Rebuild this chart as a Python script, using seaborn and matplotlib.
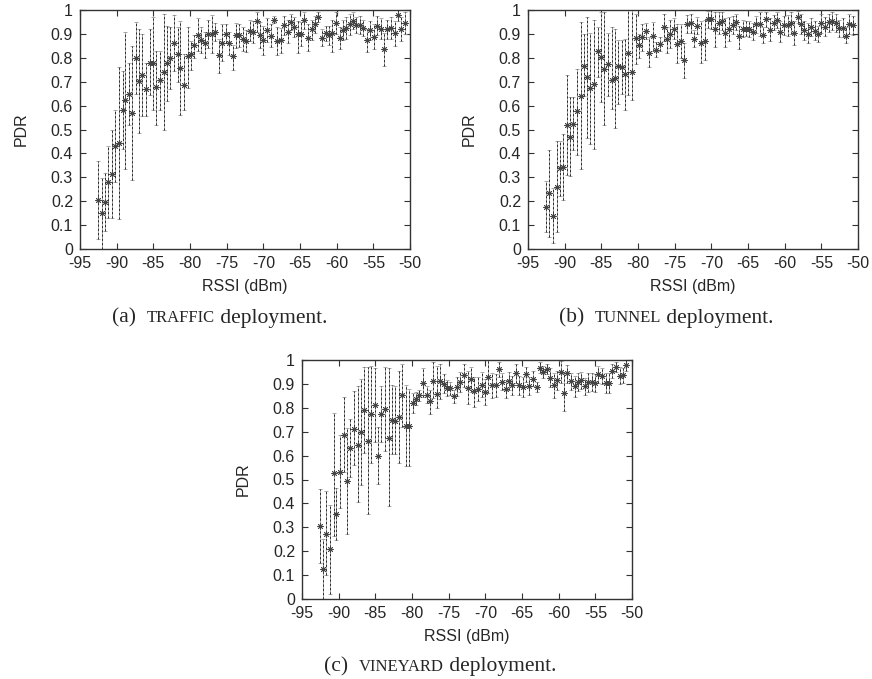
import numpy as np
import pandas as pd
import seaborn as sns
import matplotlib.pyplot as plt

# ---- (a) TRAFFIC ----
traffic_rssi = [-92.6, -92.0, -91.6, -91.2, -90.7, -90.2, -89.7, -89.2, -88.8, -88.3,
                -87.9, -87.4, -86.9, -86.5, -86.0, -85.5, -85.1, -84.6, -84.1, -83.6,
                -83.2, -82.7, -82.2, -81.7, -81.3, -80.8, -80.3, -79.9, -79.4, -78.9,
                -78.5, -78.0, -77.5, -77.0, -76.6, -76.1, -75.6, -75.1, -74.7, -74.2,
                -73.7, -73.3, -72.8, -72.3, -71.8, -71.4, -70.9, -70.5, -70.0, -69.5,
                -69.0, -68.6, -68.1, -67.6, -67.2, -66.7, -66.2, -65.8, -65.3, -64.8,
                -64.4, -63.9, -63.4, -63.0, -62.5, -62.0, -61.5, -61.0, -60.6, -60.1,
                -59.6, -59.2, -58.7, -58.2, -57.8, -57.3, -56.8, -56.4, -55.9, -55.4,
                -54.9, -54.5, -54.0, -53.5, -53.1, -52.6, -52.1, -51.6, -51.2, -50.7]
traffic_pdr = [0.203, 0.15, 0.195, 0.28, 0.315, 0.43, 0.445, 0.58, 0.625, 0.65,
               0.57, 0.80, 0.705, 0.727, 0.67, 0.78, 0.78, 0.677, 0.706, 0.742,
               0.78, 0.80, 0.863, 0.816, 0.758, 0.687, 0.806, 0.816, 0.852, 0.895,
               0.876, 0.86, 0.90, 0.90, 0.907, 0.81, 0.863, 0.90, 0.863, 0.806,
               0.894, 0.894, 0.88, 0.87, 0.914, 0.91, 0.953, 0.894, 0.873, 0.915,
               0.893, 0.96, 0.87, 0.873, 0.936, 0.91, 0.951, 0.928, 0.898, 0.90,
               0.957, 0.884, 0.919, 0.94, 0.972, 0.884, 0.902, 0.895, 0.905, 0.944,
               0.883, 0.918, 0.925, 0.94, 0.955, 0.937, 0.938, 0.925, 0.873, 0.915,
               0.887, 0.935, 0.922, 0.836, 0.92, 0.925, 0.902, 0.98, 0.92, 0.945]
traffic_top = [0.37, 0.295, 0.32, 0.43, 0.50, 0.58, 0.76, 0.745, 0.91, 0.78,
               0.85, 0.95, 0.92, 0.90, 0.78, 0.92, 0.97, 0.83, 0.83, 0.985,
               0.935, 0.93, 0.98, 0.93, 0.955, 0.815, 0.93, 0.87, 0.895, 0.965,
               0.93, 0.91, 0.96, 0.98, 0.945, 0.88, 0.94, 0.94, 0.91, 0.855,
               0.945, 0.94, 0.93, 0.915, 0.96, 0.955, 0.99, 0.95, 0.935, 0.965,
               0.94, 0.975, 0.93, 0.925, 0.975, 0.96, 0.985, 0.97, 0.955, 0.95,
               0.99, 0.94, 0.96, 0.975, 0.99, 0.92, 0.935, 0.935, 0.96, 0.99,
               0.93, 0.96, 0.97, 0.985, 0.99, 0.97, 0.975, 0.96, 0.92, 0.955,
               0.94, 0.975, 0.965, 0.905, 0.96, 0.97, 0.955, 1.0, 0.97, 0.99]
traffic_bot = [0.04, 0.0, 0.075, 0.13, 0.13, 0.28, 0.125, 0.42, 0.335, 0.52,
               0.29, 0.65, 0.485, 0.555, 0.555, 0.645, 0.58, 0.52, 0.58, 0.50,
               0.62, 0.67, 0.745, 0.70, 0.56, 0.58, 0.675, 0.75, 0.80, 0.83,
               0.82, 0.80, 0.84, 0.82, 0.87, 0.735, 0.785, 0.86, 0.81, 0.75,
               0.84, 0.845, 0.83, 0.825, 0.87, 0.86, 0.91, 0.84, 0.81, 0.865,
               0.845, 0.945, 0.81, 0.82, 0.895, 0.86, 0.915, 0.885, 0.82, 0.85,
               0.92, 0.83, 0.875, 0.905, 0.95, 0.85, 0.87, 0.855, 0.825, 0.90,
               0.835, 0.875, 0.88, 0.895, 0.92, 0.905, 0.90, 0.89, 0.825, 0.875,
               0.835, 0.895, 0.88, 0.765, 0.88, 0.88, 0.85, 0.955, 0.87, 0.90]

# ---- (b) TUNNEL ----
tunnel_rssi = [-92.6, -92.1, -91.6, -91.1, -90.6, -90.2, -89.7, -89.3, -88.8, -88.3,
               -87.8, -87.4, -86.9, -86.5, -86.0, -85.5, -85.0, -84.6, -84.1, -83.6,
               -83.2, -82.7, -82.2, -81.8, -81.3, -80.8, -80.3, -79.9, -79.4, -78.9,
               -78.5, -78.0, -77.5, -77.0, -76.5, -76.1, -75.6, -75.1, -74.7, -74.2,
               -73.7, -73.3, -72.8, -72.3, -71.9, -71.4, -70.9, -70.5, -70.0, -69.5,
               -69.0, -68.5, -68.1, -67.6, -67.1, -66.7, -66.2, -65.7, -65.3, -64.8,
               -64.3, -63.9, -63.4, -62.9, -62.5, -62.0, -61.5, -61.0, -60.6, -60.1,
               -59.6, -59.2, -58.7, -58.2, -57.8, -57.3, -56.8, -56.4, -55.9, -55.4,
               -55.0, -54.5, -54.0, -53.5, -53.0, -52.6, -52.1, -51.6, -51.2, -50.7]
tunnel_pdr = [0.175, 0.234, 0.139, 0.26, 0.337, 0.344, 0.52, 0.47, 0.525, 0.577,
              0.64, 0.765, 0.72, 0.674, 0.69, 0.827, 0.802, 0.752, 0.774, 0.707,
              0.716, 0.766, 0.763, 0.731, 0.822, 0.741, 0.883, 0.852, 0.887, 0.914,
              0.82, 0.893, 0.833, 0.858, 0.929, 0.877, 0.90, 0.922, 0.859, 0.87,
              0.79, 0.943, 0.944, 0.879, 0.935, 0.864, 0.869, 0.961, 0.962, 0.919,
              0.946, 0.954, 0.904, 0.92, 0.937, 0.951, 0.89, 0.922, 0.922, 0.92,
              0.91, 0.94, 0.941, 0.894, 0.962, 0.918, 0.947, 0.958, 0.908, 0.936,
              0.937, 0.946, 0.905, 0.972, 0.943, 0.918, 0.90, 0.928, 0.914, 0.898,
              0.946, 0.929, 0.948, 0.954, 0.947, 0.923, 0.926, 0.891, 0.943, 0.936]
tunnel_top = [0.285, 0.415, 0.255, 0.45, 0.45, 0.48, 0.73, 0.635, 0.635, 0.755,
              0.95, 0.90, 0.97, 0.905, 0.96, 0.93, 0.99, 0.99, 0.905, 0.93,
              0.92, 0.875, 0.875, 0.88, 1.0, 1.0, 0.985, 0.90, 0.94, 0.945,
              0.885, 0.95, 0.865, 0.885, 0.985, 0.93, 0.96, 0.965, 0.94, 0.94,
              0.86, 0.98, 0.985, 0.915, 0.97, 0.955, 0.96, 0.995, 1.0, 0.99,
              0.99, 0.99, 0.965, 0.97, 0.975, 0.985, 0.935, 0.96, 0.955, 0.955,
              0.945, 0.975, 0.99, 0.93, 0.99, 0.965, 0.98, 0.99, 0.955, 0.975,
              0.98, 0.99, 0.955, 0.995, 0.985, 0.955, 0.945, 0.965, 0.955, 0.935,
              0.985, 0.97, 0.985, 0.99, 0.985, 0.96, 0.965, 0.93, 0.985, 0.975]
tunnel_bot = [0.07, 0.05, 0.025, 0.07, 0.22, 0.205, 0.31, 0.305, 0.415, 0.395,
              0.335, 0.64, 0.465, 0.44, 0.42, 0.72, 0.615, 0.52, 0.64, 0.585,
              0.505, 0.605, 0.65, 0.58, 0.645, 0.625, 0.775, 0.80, 0.83, 0.88,
              0.76, 0.83, 0.805, 0.83, 0.87, 0.82, 0.84, 0.88, 0.78, 0.80,
              0.715, 0.905, 0.905, 0.845, 0.90, 0.78, 0.79, 0.925, 0.92, 0.845,
              0.90, 0.915, 0.845, 0.87, 0.90, 0.915, 0.835, 0.885, 0.89, 0.885,
              0.875, 0.905, 0.89, 0.86, 0.93, 0.87, 0.915, 0.925, 0.865, 0.895,
              0.89, 0.90, 0.855, 0.945, 0.90, 0.875, 0.86, 0.89, 0.875, 0.865,
              0.905, 0.89, 0.91, 0.915, 0.91, 0.885, 0.885, 0.86, 0.90, 0.895]

# ---- (c) VINEYARD ----
vineyard_rssi = [-92.6, -92.1, -91.7, -91.2, -90.7, -90.3, -89.8, -89.3, -88.8, -88.4,
                 -87.9, -87.4, -87.0, -86.5, -86.0, -85.6, -85.1, -84.6, -84.2, -83.7,
                 -83.2, -82.7, -82.3, -81.8, -81.3, -80.8, -80.4, -79.9, -79.4, -79.0,
                 -78.5, -78.0, -77.6, -77.1, -76.6, -76.2, -75.7, -75.2, -74.8, -74.3,
                 -73.8, -73.4, -72.9, -72.4, -72.0, -71.5, -71.0, -70.5, -70.1, -69.6,
                 -69.1, -68.6, -68.2, -67.7, -67.2, -66.8, -66.3, -65.8, -65.4, -64.9,
                 -64.4, -64.0, -63.5, -63.0, -62.6, -62.1, -61.6, -61.2, -60.7, -60.2,
                 -59.7, -59.3, -58.8, -58.3, -57.8, -57.4, -56.9, -56.4, -56.0, -55.5,
                 -55.0, -54.6, -54.1, -53.6, -53.1, -52.7, -52.2, -51.7, -51.2, -50.8]
vineyard_pdr = [0.306, 0.125, 0.273, 0.208, 0.526, 0.355, 0.531, 0.688, 0.494, 0.632,
                0.713, 0.646, 0.698, 0.79, 0.66, 0.773, 0.81, 0.60, 0.774, 0.795,
                0.675, 0.75, 0.744, 0.762, 0.854, 0.723, 0.723, 0.82, 0.838, 0.854,
                0.905, 0.854, 0.829, 0.914, 0.859, 0.914, 0.90, 0.883, 0.882, 0.848,
                0.889, 0.907, 0.936, 0.884, 0.919, 0.869, 0.88, 0.897, 0.865, 0.929,
                0.894, 0.894, 0.961, 0.909, 0.877, 0.914, 0.896, 0.946, 0.896, 0.889,
                0.94, 0.893, 0.922, 0.887, 0.968, 0.95, 0.962, 0.926, 0.896, 0.916,
                0.95, 0.864, 0.944, 0.912, 0.891, 0.908, 0.915, 0.891, 0.907, 0.907,
                0.904, 0.94, 0.933, 0.904, 0.904, 0.954, 0.971, 0.935, 0.936, 0.979]
vineyard_top = [0.46, 0.25, 0.45, 0.395, 0.78, 0.465, 0.685, 0.845, 0.715, 0.755,
                0.87, 0.89, 0.92, 0.97, 0.97, 0.975, 0.965, 0.72, 0.89, 0.97,
                0.965, 0.895, 0.89, 0.955, 0.985, 0.895, 0.88, 0.86, 0.865, 0.875,
                0.965, 0.89, 0.875, 0.99, 0.975, 0.985, 0.94, 0.915, 0.91, 0.875,
                0.93, 0.95, 0.985, 0.955, 0.97, 0.93, 0.93, 0.95, 0.92, 1.0,
                0.945, 0.94, 0.99, 0.945, 0.915, 0.95, 0.935, 0.985, 0.935, 0.93,
                0.97, 0.93, 0.955, 0.91, 0.99, 0.975, 0.985, 0.965, 0.945, 0.955,
                0.995, 0.945, 0.98, 0.945, 0.935, 0.945, 0.95, 0.925, 0.945, 0.945,
                0.94, 0.975, 0.965, 0.945, 0.945, 0.985, 0.99, 0.97, 0.965, 1.0]
vineyard_bot = [0.15, 0.0, 0.10, 0.02, 0.265, 0.245, 0.38, 0.53, 0.27, 0.51,
                0.56, 0.405, 0.475, 0.61, 0.355, 0.57, 0.655, 0.48, 0.655, 0.62,
                0.39, 0.605, 0.605, 0.57, 0.72, 0.555, 0.555, 0.78, 0.81, 0.83,
                0.845, 0.82, 0.775, 0.84, 0.80, 0.835, 0.86, 0.85, 0.855, 0.82,
                0.85, 0.865, 0.885, 0.815, 0.865, 0.805, 0.83, 0.845, 0.81, 0.86,
                0.84, 0.845, 0.93, 0.875, 0.84, 0.875, 0.855, 0.905, 0.855, 0.845,
                0.91, 0.855, 0.89, 0.865, 0.945, 0.925, 0.94, 0.885, 0.84, 0.875,
                0.905, 0.785, 0.905, 0.875, 0.845, 0.87, 0.88, 0.855, 0.865, 0.87,
                0.865, 0.905, 0.90, 0.86, 0.86, 0.925, 0.95, 0.90, 0.905, 0.955]

x_ticks = [-95, -90, -85, -80, -75, -70, -65, -60, -55, -50]
y_ticks = [0, 0.1, 0.2, 0.3, 0.4, 0.5, 0.6, 0.7, 0.8, 0.9, 1]
y_tick_labels = ["0", "0.1", "0.2", "0.3", "0.4", "0.5", "0.6", "0.7", "0.8", "0.9", "1"]

sns.set_theme(style="ticks")
plt.rcParams['font.family'] = ['Liberation Sans', 'DejaVu Sans']
plt.rcParams['xtick.direction'] = 'in'
plt.rcParams['ytick.direction'] = 'in'

W, H = 872, 679
fig = plt.figure(figsize=(W / 100, H / 100), dpi=100)


def px_axes(left, top, right, bottom):
    return fig.add_axes([left / W, 1 - bottom / H, (right - left) / W, (bottom - top) / H])


panels = [
    (px_axes(80, 10, 410, 249), traffic_rssi, traffic_pdr, traffic_top, traffic_bot),
    (px_axes(528, 10, 858, 249), tunnel_rssi, tunnel_pdr, tunnel_top, tunnel_bot),
    (px_axes(302, 360, 632, 599), vineyard_rssi, vineyard_pdr, vineyard_top, vineyard_bot),
]

for ax, rssi, pdr, top, bot in panels:
    df = pd.DataFrame({"RSSI": rssi, "PDR": pdr, "top": top, "bot": bot})
    # gnuplot style dashed bars: grey underneath, black dashes on top
    ax.errorbar(df["RSSI"], df["PDR"],
                yerr=[df["PDR"] - df["bot"], df["top"] - df["PDR"]],
                fmt="none", ecolor="#a8a8a8", elinewidth=0.7, capsize=1.6, capthick=0.7)
    ax.vlines(df["RSSI"], df["bot"], df["top"], colors="#2a2a2a",
              linewidth=0.7, linestyles=(0, (2.2, 2.2)))
    sns.scatterplot(data=df, x="RSSI", y="PDR", ax=ax, marker=(8, 2, 0),
                    color="#444444", s=16, linewidth=0.6, zorder=5)
    ax.set_xlim(-95, -50)
    ax.set_ylim(0, 1)
    ax.set_xticks(x_ticks)
    ax.set_xticklabels([str(t) for t in x_ticks])
    ax.set_yticks(y_ticks)
    ax.set_yticklabels(y_tick_labels)
    ax.tick_params(axis="both", which="both", top=True, right=True, length=4,
                   width=0.8, labelsize=11.5, pad=5, color="#333333")
    for s in ax.spines.values():
        s.set_visible(True)
        s.set_linewidth(1.0)
        s.set_color("#333333")
    ax.set_xlabel("RSSI (dBm)", fontsize=11.5, labelpad=6)
    ax.set_ylabel("PDR", fontsize=11.5, labelpad=16)


def caption(xc, yc, label, name):
    renderer = fig.canvas.get_renderer()
    parts = [(f"({label})  ", 15.5), (name, 12), (" deployment.", 15.5)]
    texts = []
    for s, size in parts:
        t = fig.text(0, 1 - yc / H, s, fontsize=size, family="Liberation Serif",
                     va="center", ha="left")
        texts.append(t)
    widths = [t.get_window_extent(renderer).width for t in texts]
    x = xc - sum(widths) / 2
    for t, w in zip(texts, widths):
        t.set_x(x / W)
        x += w


caption(220, 318, "a", "TRAFFIC")
caption(666, 318, "b", "TUNNEL")
caption(440, 667, "c", "VINEYARD")

fig.savefig("out.png", dpi=100)
